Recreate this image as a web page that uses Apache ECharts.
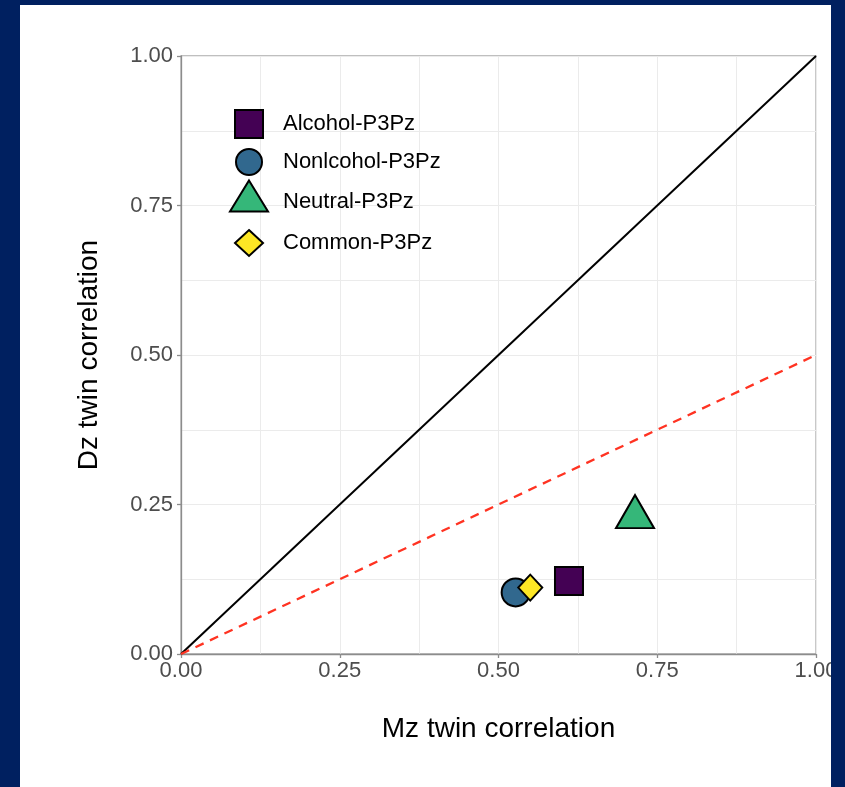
<!DOCTYPE html>
<html>
<head>
<meta charset="utf-8">
<script src="https://cdn.jsdelivr.net/npm/echarts@6/dist/echarts.min.js"></script>
<style>
  html, body { margin: 0; padding: 0; background: #002060; }
  body { width: 845px; height: 787px; position: relative; overflow: hidden; }
  #twinChart { position: absolute; left: 20px; top: 5px; width: 811px; height: 782px; background: #fff; }
</style>
</head>
<body>
<div id="twinChart"></div>
<script>
// 数据
const categories = ['Alcohol-P3Pz', 'Nonlcohol-P3Pz', 'Neutral-P3Pz', 'Common-P3Pz'];
const mzCorr = [0.611, 0.527, 0.715, 0.550];
const dzCorr = [0.122, 0.103, 0.238, 0.111];
const tickValues = [0, 0.25, 0.5, 0.75, 1];
const identityLine = [[0, 0], [1, 1]];   // Dz = Mz
const halfLine = [[0, 0], [1, 0.5]];     // Dz = Mz / 2

const fillColors = ['#440154', '#31688E', '#35B779', '#FDE725'];
const symbols = ['rect', 'circle', 'triangle', 'diamond'];
const plotSizes = [[28, 28], [28, 28], [38, 33], [24, 26]];
// legend: [width, height, left, top, textPadding]
const legendBoxes = [
    [28, 28, 214, 104, [0, 0, 0, 15]],
    [26, 26, 215, 143, [0, 0, 0, 16]],
    [38, 31, 209, 174, [12, 0, 0, 10]],
    [28, 26, 214, 224, [0, 0, 0, 15]]
];
const font = "'Liberation Sans', Arial, sans-serif";

let myChart = echarts.init(document.getElementById('twinChart'));

let axisCommon = {
    type: 'value',
    min: 0,
    max: 1,
    interval: 0.25,
    nameLocation: 'middle',
    nameTextStyle: { color: '#000', fontSize: 28, fontFamily: font },
    axisLine: { show: true, lineStyle: { color: '#8C8C8C', width: 1.3 } },
    axisTick: { show: true, length: 4, lineStyle: { color: '#8C8C8C', width: 1.3 } },
    axisLabel: {
        color: '#4D4D4D',
        fontSize: 22,
        fontFamily: font,
        formatter: v => tickValues.indexOf(v) >= 0 ? v.toFixed(2) : ''
    },
    splitLine: { show: true, lineStyle: { color: '#EBEBEB', width: 1 } },
    minorTick: { show: false, splitNumber: 2 },
    minorSplitLine: { show: true, lineStyle: { color: '#EBEBEB', width: 1 } }
};

let pointSeries = categories.map((name, i) => {
    return {
        name: name,
        type: 'scatter',
        symbol: symbols[i],
        symbolSize: plotSizes[i],
        itemStyle: { color: fillColors[i], borderColor: '#000', borderWidth: 2, opacity: 1 },
        z: i === 3 ? 6 : 5,
        data: [[mzCorr[i], dzCorr[i]]]
    }
});

let option = {
    animation: false,
    grid: {
        left: 161,
        top: 51,
        width: 635,
        height: 598,
        show: true,
        borderColor: '#ABABAB',
        borderWidth: 1.3,
        containLabel: false,
        outerBoundsMode: 'none'
    },
    legend: categories.map((name, i) => {
        let b = legendBoxes[i];
        return {
            data: [name],
            orient: 'vertical',
            left: b[2],
            top: b[3],
            padding: 0,
            itemWidth: b[0],
            itemHeight: b[1],
            icon: symbols[i],
            selectedMode: false,
            itemStyle: { borderColor: '#000', borderWidth: 2 },
            formatter: '{t|{name}}',
            textStyle: {
                rich: {
                    t: { color: '#000', fontSize: 22, lineHeight: 24, fontFamily: font, padding: b[4] }
                }
            }
        }
    }),
    xAxis: Object.assign({}, axisCommon, {
        name: 'Mz twin correlation',
        nameGap: 61,
        axisLabel: Object.assign({}, axisCommon.axisLabel, { margin: 6 })
    }),
    yAxis: Object.assign({}, axisCommon, {
        name: 'Dz twin correlation',
        nameGap: 78,
        axisLabel: Object.assign({}, axisCommon.axisLabel, { margin: 8 })
    }),
    series: [
        {
            name: 'identity',
            type: 'line',
            symbol: 'none',
            silent: true,
            lineStyle: { color: '#000', width: 2 },
            data: identityLine
        },
        {
            name: 'half',
            type: 'line',
            symbol: 'none',
            silent: true,
            lineStyle: { color: '#FF3322', width: 2.3, type: [9, 7] },
            data: halfLine
        },
        pointSeries[1],
        pointSeries[3],
        pointSeries[0],
        pointSeries[2]
    ]
};
myChart.setOption(option);
</script>
</body>
</html>
